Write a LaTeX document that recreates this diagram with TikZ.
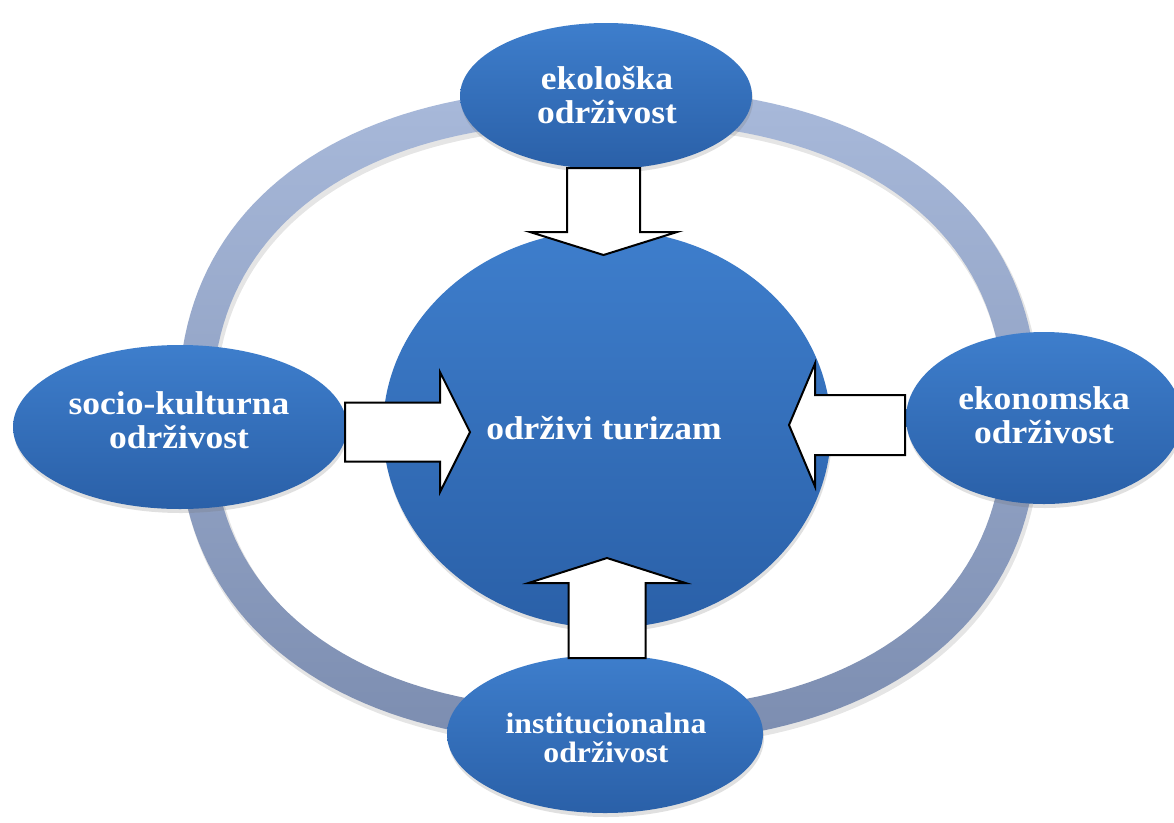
\documentclass[tikz,border=0pt]{standalone}
\usepackage{fontspec}
\setmainfont{Liberation Serif}[FakeStretch=1.075]
\usetikzlibrary{shapes.geometric,shadows}
\definecolor{ringtop}{RGB}{168,185,218}
\definecolor{ringbot}{RGB}{124,141,176}
\definecolor{bluetop}{RGB}{62,126,204}
\definecolor{bluebot}{RGB}{42,96,168}
\tikzset{
  blob/.style={ellipse, draw=none, top color=bluetop, bottom color=bluebot, inner sep=0pt,
    drop shadow={shadow xshift=1pt, shadow yshift=-4pt, opacity=0.22, fill=black!55}},
  lbl/.style={text=white, align=center, anchor=base, inner sep=0pt,
    font=\fontsize{33}{33.5}\selectfont\bfseries},
  lblsmall/.style={lbl, font=\fontsize{29.5}{29}\selectfont\bfseries},
  barrow/.style={draw=black, fill=white, line width=2pt, line join=miter}
}
% superellipse ring outline: #1,#2 centre, #3,#4 half axes
\newcommand{\sellpath}[4]{plot[domain=1:359, samples=180]
  ({#1+#3*cos(\x)*pow(abs(cos(\x)),-0.1416)}, {#2+#4*sin(\x)*pow(abs(sin(\x)),-0.1416)}) -- cycle}
\begin{document}
\begin{tikzpicture}[x=1pt,y=-1pt]
\useasboundingbox (0,0) rectangle (1174,822);
\clip (0,0) rectangle (1174,822);
\fill[white] (0,0) rectangle (1174,822);
% ring (soft shadow + body)
\fill[black, opacity=0.10, even odd rule]
  \sellpath{610}{420}{431}{329} \sellpath{610}{420}{395}{293};
\shade[top color=ringtop, bottom color=ringbot, even odd rule]
  \sellpath{608}{416}{430}{328} \sellpath{608}{416}{396}{294};
% central circle
\node[blob, minimum width=448pt, minimum height=398pt] (ctr) at (607,429) {};
% outer ellipses
\node[blob, minimum width=292pt, minimum height=146pt] (eko) at (606,96) {};
\node[blob, minimum width=334pt, minimum height=164pt] (soc) at (180,427) {};
\node[blob, minimum width=276pt, minimum height=172pt] (ekon) at (1044,418) {};
\node[blob, minimum width=316pt, minimum height=158pt] (inst) at (605,734) {};
% texts (base = baseline of last line)
\node[lbl] (ctrT) at (604,439) {održivi turizam};
\node[lbl] (ekoT) at (607,123) {ekološka\\održivost};
\node[lbl] (socT) at (179,448) {socio-kulturna\\održivost};
\node[lbl] (ekonT) at (1044,443) {ekonomska\\održivost};
\node[lblsmall] (instT) at (606,762) {institucionalna\\održivost};
% block arrows
\coordinate (aL) at (345,432);
\coordinate (aR) at (905,425);
\coordinate (aT) at (603.5,168);
\coordinate (aB) at (607,658);
\draw[barrow] (aL) ++(0,-29.5) -- ++(95,0) -- ++(0,-30.5) -- ++(30,60) -- ++(-30,60)
  -- ++(0,-30.5) -- ++(-95,0) -- cycle;
\draw[barrow] (aR) ++(0,-30) -- ++(-90,0) -- ++(0,-31.5) -- ++(-26,61.5) -- ++(26,61.5)
  -- ++(0,-31.5) -- ++(90,0) -- cycle;
\draw[barrow] (aT) ++(-36.5,0) -- ++(0,64) -- ++(-37,0) -- ++(73.5,23) -- ++(73.5,-23)
  -- ++(-37,0) -- ++(0,-64) -- cycle;
\draw[barrow] (aB) ++(-38.5,0) -- ++(0,-75) -- ++(-40,0) -- ++(78.5,-25) -- ++(78.5,25)
  -- ++(-40,0) -- ++(0,75) -- cycle;
\end{tikzpicture}
\end{document}
